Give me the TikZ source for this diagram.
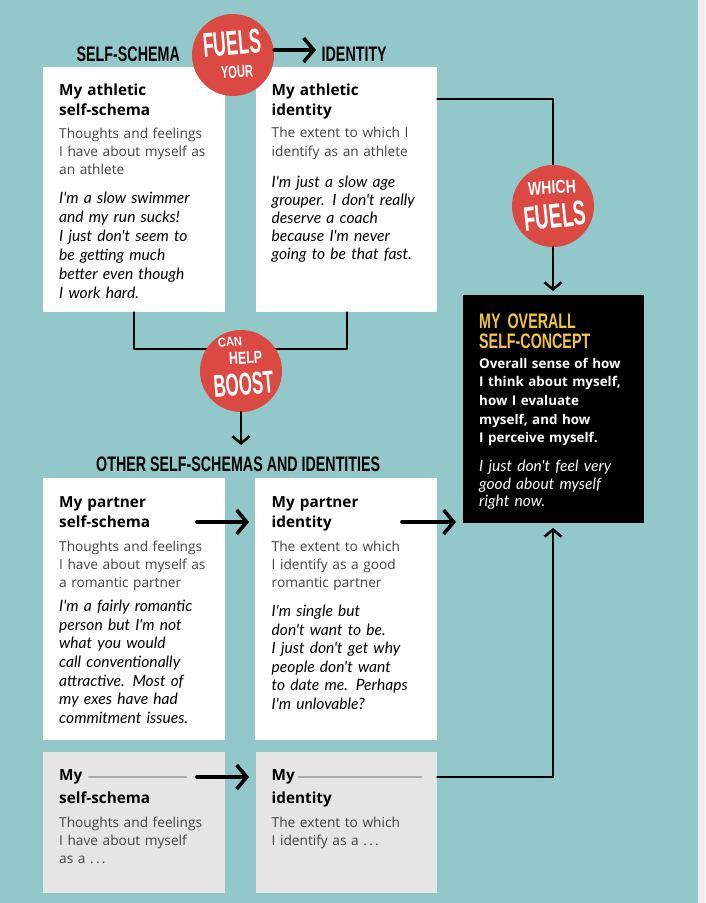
\documentclass[tikz,border=0pt]{standalone}
\usepackage{fontspec}
\usepackage{graphicx}
\setmainfont{Open Sans}
\newfontfamily\headfont[FakeStretch=0.68]{Liberation Sans}
\newfontfamily\handfont{Lato}
\usetikzlibrary{arrows.meta,calc}
\definecolor{bg}{RGB}{146,200,202}
\definecolor{redc}{RGB}{219,74,66}
\definecolor{grayb}{RGB}{229,229,229}
\definecolor{bodyg}{RGB}{66,66,66}
\definecolor{yel}{RGB}{243,196,66}
\definecolor{stripc}{RGB}{238,240,240}
\definecolor{ulc}{RGB}{170,170,170}
\newcommand{\cwd}[3]{\resizebox{#1pt}{#2pt}{\headfont\bfseries #3}}
\begin{document}
\begin{tikzpicture}[x=1pt,y=-1pt,
  wbox/.style={fill=white, draw=none, inner sep=0, anchor=north west},
  gbox/.style={fill=grayb, draw=none, inner sep=0, anchor=north west},
  ttl/.style={anchor=base west, inner sep=0, text width=165pt, align=left, text=black, font=\bfseries\fontsize{15.3}{#1}\selectfont},
  ttl/.default=20,
  bdy/.style={anchor=base west, inner sep=0, text width=175pt, align=left, text=bodyg, font=\fontsize{13.7}{#1}\selectfont},
  bdy/.default=18.5,
  hnd/.style={anchor=base west, inner sep=0, text width=175pt, align=left, text=black, font=\handfont\itshape\fontsize{15.6}{#1}\selectfont},
  hnd/.default=19,
  hdr/.style={anchor=base west, inner sep=0, text=black, font=\headfont\bfseries\fontsize{21}{20}\selectfont},
  circ/.style={circle, fill=redc, draw=none, minimum size=82pt, inner sep=0},
  ctext/.style={inner sep=0, text=white},
  conn/.style={line width=2.6pt, line cap=round, line join=round},
  varr/.style={conn, -{Straight Barb[length=7pt,width=17pt]}},
  harr/.style={line width=3.6pt, line cap=round, -{Straight Barb[length=10pt,width=24pt]}}
]
\useasboundingbox (0,0) rectangle (705,903);
\fill[bg] (0,0) rectangle (705,903);
\fill[stripc] (698,0) rectangle (705,903);

% boxes
\node[wbox, minimum width=182pt, minimum height=245pt] (b1) at (43,67) {};
\node[wbox, minimum width=181pt, minimum height=245pt] (b2) at (256,67) {};
\node[wbox, minimum width=182pt, minimum height=262pt] (b3) at (43,478) {};
\node[wbox, minimum width=182pt, minimum height=262pt] (b4) at (255,478) {};
\node[gbox, minimum width=182pt, minimum height=141pt] (b5) at (43,752) {};
\node[gbox, minimum width=181pt, minimum height=141pt] (b6) at (256,752) {};
\node[fill=black, draw=none, inner sep=0, anchor=north west, minimum width=181pt, minimum height=228pt] (bc) at (463,295) {};

% headers
\node[hdr] (hss) at (76.5,61.7) {SELF-SCHEMA};
\node[hdr] (hid) at (321.5,61.7) {IDENTITY};
\node[hdr] (oth) at (96,471.7) {OTHER SELF-SCHEMAS AND IDENTITIES};

% connectors
\coordinate (k1) at (553,99);
\draw[conn] (b2.east |- k1) -- (k1) -- (553,206);
\coordinate (j1) at (134,349);
\coordinate (j2) at (347,349);
\draw[conn] (b1.south -| j1) -- (j1) -- (j2) -- (b2.south -| j2);
\coordinate (k2) at (553,777);
\draw[varr] (b6.east |- k2) -- (k2) -- (553,528);

% circles
\node[circ] (c1) at (233,55) {};
\node[circ] (c2) at (553,206) {};
\node[circ] (c3) at (241,371) {};

\coordinate (a1) at (316,50);
\draw[harr] (c1.7) -- (a1);
\draw[varr] (c2.south) -- (553,291);
\coordinate (a3) at (241,445);
\draw[varr] (c3.south) -- (a3);

\coordinate (s3) at (197,522);
\coordinate (e3) at (249,522);
\draw[harr] (s3) -- (e3);
\coordinate (s4) at (402,522);
\coordinate (e4) at (456,522);
\draw[harr] (s4) -- (e4);
\coordinate (s5) at (197,777);
\coordinate (e5) at (249,777);
\draw[harr] (s5) -- (e5);

% circle texts
\node[ctext, rotate=5] (c1a) at (232,43.5) {\cwd{58}{24}{FUELS}};
\node[ctext, rotate=3] (c1b) at (237,72) {\cwd{32}{12}{YOUR}};
\node[ctext, rotate=3] (c2a) at (552,187.5) {\cwd{48}{13}{WHICH}};
\node[ctext, rotate=6] (c2b) at (555,216) {\cwd{62}{24}{FUELS}};
\node[ctext, rotate=5] (c3a) at (230,342) {\cwd{24}{9}{CAN}};
\node[ctext, rotate=3] (c3b) at (245.5,358) {\cwd{33}{12}{HELP}};
\node[ctext, rotate=5] (c3c) at (243.5,384.5) {\cwd{60}{22}{BOOST}};

% box 1
\node[ttl] (t1) at (59,95) {My athletic\\self-schema};
\node[bdy=18] (d1) at (59,138) {Thoughts and feelings\\I have about myself as\\an athlete};
\node[hnd] (h1) at (59,203) {I'm a slow swimmer\\and my run sucks!\\I just don't seem to\\be getting much\\better even though\\I work hard.};
% box 2
\node[ttl] (t2) at (271.5,95) {My athletic\\identity};
\node[bdy=19] (d2) at (271.5,137.7) {The extent to which I\\identify as an athlete};
\node[hnd=18] (h2) at (271.5,187.7) {I'm just a slow age\\grouper. I don't really\\deserve a coach\\because I'm never\\going to be that fast.};
% box 3
\node[ttl] (t3) at (59,507) {My partner\\self-schema};
\node[bdy=17.7] (d3) at (59,551.7) {Thoughts and feelings\\I have about myself as\\a romantic partner};
\node[hnd=18.6] (h3) at (59,611.7) {I'm a fairly romantic\\person but I'm not\\what you would\\call conventionally\\attractive. Most of\\my exes have had\\commitment issues.};
% box 4
\node[ttl] (t4) at (271.5,507) {My partner\\identity};
\node[bdy=17.7] (d4) at (271.5,551.7) {The extent to which\\I identify as a good\\romantic partner};
\node[hnd=18.5] (h4) at (271.5,616.7) {I'm single but\\don't want to be.\\I just don't get why\\people don't want\\to date me. Perhaps\\I'm unlovable?};
% box 5
\node[ttl=23] (t5) at (59,780) {My\\self-schema};
\draw[line width=2.4pt, ulc, line cap=round] (89,777) -- (186,777);
\node[bdy=18] (d5) at (59,827) {Thoughts and feelings\\I have about myself\\as a .\,.\,.};
% box 6
\node[ttl=23] (t6) at (271.5,780) {My\\identity};
\draw[line width=2.4pt, ulc, line cap=round] (299,777) -- (421,777);
\node[bdy=18] (d6) at (271.5,827) {The extent to which\\I identify as a .\,.\,.};
% black box
\node[anchor=base west, inner sep=0, text=yel, text width=160pt, align=left, font=\headfont\bfseries\fontsize{21}{20}\selectfont] (tc) at (479,328) {MY OVERALL\\SELF-CONCEPT};
\node[anchor=base west, inner sep=0, text=white, text width=165pt, align=left, font=\bfseries\fontsize{13.4}{18.7}\selectfont] (dc) at (479,368) {Overall sense of how\\I think about myself,\\how I evaluate\\myself, and how\\I perceive myself.};
\node[hnd=17.5, text=white] (hc) at (479,471.7) {I just don't feel very\\good about myself\\right now.};
\end{tikzpicture}
\end{document}
